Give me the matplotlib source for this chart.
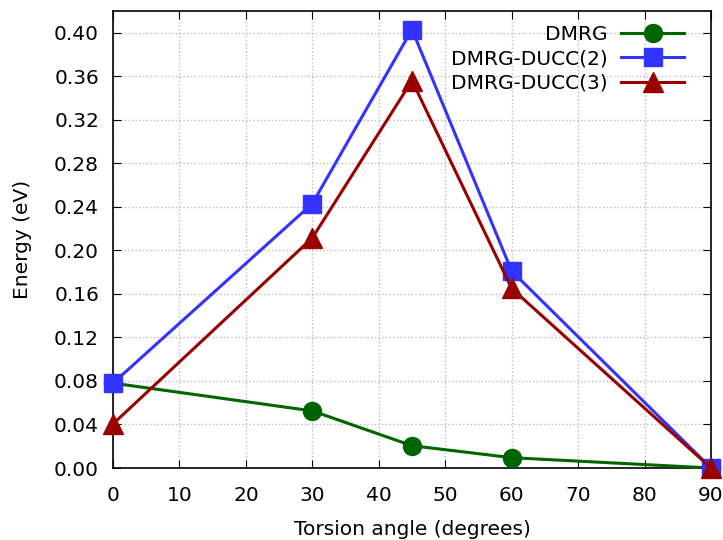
import numpy as np
import matplotlib.pyplot as plt

# torsion angles (degrees) and relative energies (eV)
angles = [0, 30, 45, 60, 90]
dmrg = [0.078, 0.0525, 0.0205, 0.0095, 0.0]
ducc2 = [0.078, 0.243, 0.403, 0.181, 0.0]
ducc3 = [0.0405, 0.2115, 0.356, 0.165, 0.0]

plt.rcParams['font.family'] = ['DejaVu Sans']

fig = plt.figure(figsize=(7.23, 5.40), dpi=100)
ax = fig.add_axes([0.1563, 0.1333, 0.8271, 0.8463])

ax.plot(angles, dmrg, color='#006400', lw=2.2, marker='o', ms=13, label='DMRG',
        clip_on=False, zorder=3)
ax.plot(angles, ducc2, color='#3333ff', lw=2.2, marker='s', ms=13, label='DMRG-DUCC(2)',
        clip_on=False, zorder=4)
ax.plot(angles, ducc3, color='#990000', lw=2.2, marker='^', ms=14, label='DMRG-DUCC(3)',
        clip_on=False, zorder=5)

ax.set_xlim(0, 90)
ax.set_ylim(0, 0.42)
ax.set_xticks(np.arange(0, 91, 10))
ax.set_yticks(np.arange(0, 0.41, 0.04))
ax.set_yticklabels(['%.2f' % v for v in np.arange(0, 0.41, 0.04)])
ax.tick_params(direction='in', top=True, right=True, length=6, labelsize=14.5, pad=10)
ax.tick_params(axis='x', pad=13)
ax.grid(True, linestyle=':', color='#bbbbbb', lw=1)
for s in ax.spines.values():
    s.set_linewidth(1.2)

ax.set_xlabel('Torsion angle (degrees)', fontsize=14.5, labelpad=11)
ax.set_ylabel('Energy (eV)', fontsize=14.5, labelpad=16)

leg = ax.legend(loc='upper right', bbox_to_anchor=(0.9545, 0.97), markerfirst=False,
                frameon=False, fontsize=14.5, handlelength=3.1, labelspacing=0.27,
                borderaxespad=0, handletextpad=0.7, borderpad=0)
for t in leg.get_texts():
    t.set_ha('right')

fig.savefig('out.png', dpi=100)
